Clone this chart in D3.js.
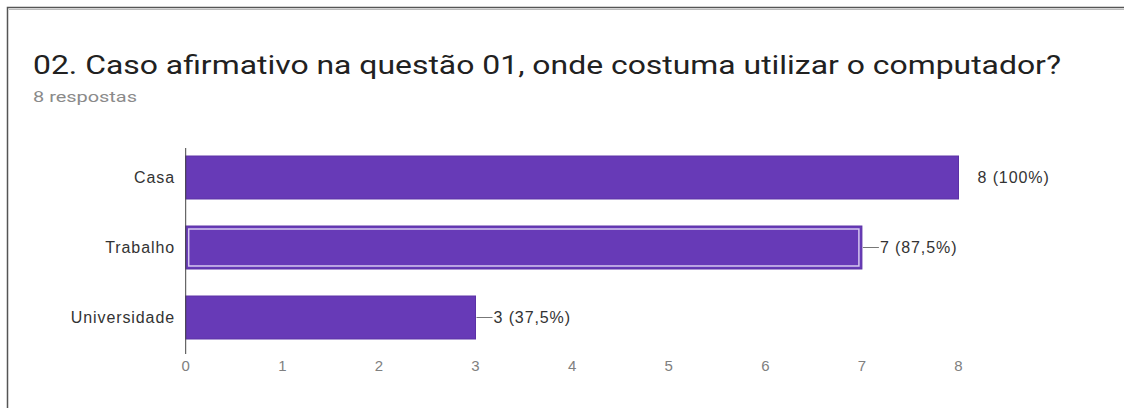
<!DOCTYPE html>
<html>
<head>
<meta charset="utf-8">
<script src="https://cdn.jsdelivr.net/npm/d3@7"></script>
<style>
	body{margin:0;background:#fff;overflow:hidden;}
	svg{display:block;}
</style>
</head>
<body>
<div id="chart"></div>
<script>
// data
var categories = ['Casa', 'Trabalho', 'Universidade'];
var values = [8, 7, 3];
var valueLabels = ['8 (100%)', '7 (87,5%)', '3 (37,5%)'];
var ticks = [0, 1, 2, 3, 4, 5, 6, 7, 8];
var title = '02. Caso afirmativo na questão 01, onde costuma utilizar o computador?';
var subtitle = '8 respostas';

var width = 1124, height = 408;
var purple = '#673ab7';

var svg = d3.select('#chart').append('svg')
	.attr('width', width)
	.attr('height', height);

// card border (top and left edges)
svg.append('path')
	.attr('d', d3.line()([[7.5, height], [7.5, 7.5], [width, 7.5]]))
	.attr('stroke', '#555')
	.attr('stroke-width', 1.5)
	.attr('fill', 'none');
svg.append('line')
	.attr('x1', 9).attr('x2', width)
	.attr('y1', 9.5).attr('y2', 9.5)
	.attr('stroke', '#bbb')
	.attr('stroke-width', 1);

// title and subtitle
svg.append('text')
	.attr('x', 33)
	.attr('y', 74)
	.attr('font-family', 'Roboto, sans-serif')
	.attr('font-size', 26)
	.attr('fill', '#212121')
	.attr('textLength', 1028)
	.attr('lengthAdjust', 'spacingAndGlyphs')
	.text(title);

svg.append('text')
	.attr('x', 33)
	.attr('y', 102)
	.attr('font-family', 'Roboto, sans-serif')
	.attr('font-size', 14)
	.attr('fill', '#8a8a8a')
	.attr('textLength', 104)
	.attr('lengthAdjust', 'spacingAndGlyphs')
	.text(subtitle);

// scales
var x = d3.scaleLinear()
	.domain([0, 8])
	.range([185.7, 958.5]);

var y = d3.scaleBand()
	.domain(categories)
	.range([142.5, 352.5])
	.paddingInner(0.386)
	.paddingOuter(0.193);

var labelFont = 'Liberation Sans, Arial, sans-serif';

// bars
var data = categories.map(function(c, i){
	return {cat: c, value: values[i], label: valueLabels[i]};
});

svg.selectAll('rect.bar')
	.data(data)
	.enter().append('rect')
	.attr('class', 'bar')
	.attr('x', x(0))
	.attr('y', function(d){ return y(d.cat); })
	.attr('width', function(d){ return x(d.value) - x(0); })
	.attr('height', y.bandwidth())
	.attr('fill', purple)
	.attr('stroke', '#5b31a6')
	.attr('stroke-width', 1);

// highlighted bar (Trabalho) has a light inner outline
var hl = data[1];
svg.append('rect')
	.attr('x', x(0) + 3)
	.attr('y', y(hl.cat) + 3)
	.attr('width', x(hl.value) - x(0) - 6)
	.attr('height', y.bandwidth() - 6)
	.attr('fill', 'none')
	.attr('stroke', '#d6c8f0')
	.attr('stroke-width', 1.5);

// vertical baseline
svg.append('line')
	.attr('x1', x(0)).attr('x2', x(0))
	.attr('y1', 148).attr('y2', 354)
	.attr('stroke', '#444')
	.attr('stroke-width', 1);

// category labels
svg.selectAll('text.cat')
	.data(data)
	.enter().append('text')
	.attr('class', 'cat')
	.attr('x', 175)
	.attr('y', function(d){ return y(d.cat) + y.bandwidth()/2; })
	.attr('dy', '0.35em')
	.attr('text-anchor', 'end')
	.attr('font-family', labelFont)
	.attr('font-size', 16)
	.attr('letter-spacing', 0.9)
	.attr('fill', '#333')
	.text(function(d){ return d.cat; });

// value labels with leader lines (the full bar has none)
data.forEach(function(d, i){
	var cy = y(d.cat) + y.bandwidth()/2;
	var xe = x(d.value);
	if (d.value < 8){
		svg.append('line')
			.attr('x1', xe + 1).attr('x2', xe + 17)
			.attr('y1', cy).attr('y2', cy)
			.attr('stroke', '#777')
			.attr('stroke-width', 1);
	}
	svg.append('text')
		.attr('x', d.value < 8 ? xe + 18 : xe + 19)
		.attr('y', cy)
		.attr('dy', '0.35em')
		.attr('font-family', labelFont)
		.attr('font-size', 16)
		.attr('letter-spacing', 0.9)
		.attr('fill', '#333')
		.text(d.label);
});

// x tick labels
svg.selectAll('text.tick')
	.data(ticks)
	.enter().append('text')
	.attr('class', 'tick')
	.attr('x', function(d){ return x(d); })
	.attr('y', 366)
	.attr('dy', '0.35em')
	.attr('text-anchor', 'middle')
	.attr('font-family', labelFont)
	.attr('font-size', 15)
	.attr('fill', '#808080')
	.text(function(d){ return d; });
</script>
</body>
</html>
